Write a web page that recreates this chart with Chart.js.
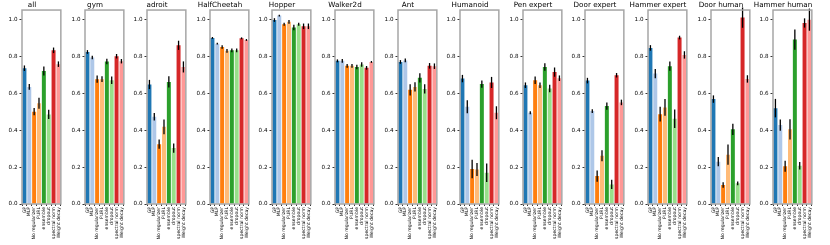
<!DOCTYPE html>
<html>
<head>
<meta charset="utf-8">
<script src="https://cdn.jsdelivr.net/npm/chart.js@4/dist/chart.umd.min.js"></script>
<style>
  body { margin: 0; background: #fff; }
  #wrap { position: relative; width: 830px; height: 245px; overflow: hidden; }
  #wrap canvas { position: absolute; top: 0; }
</style>
</head>
<body>
<div id="wrap"></div>
<script>
// dados
const methods = ['GP', 'MLP', 'No regularizer', 'PURL', 'ensemble', 'dropout', 'spectral norm', 'Weight decay'];
const panelNames = ['all', 'gym', 'adroit', 'HalfCheetah', 'Hopper', 'Walker2d', 'Ant', 'Humanoid',
                    'Pen expert', 'Door expert', 'Hammer expert', 'Door human', 'Hammer human'];
const yTicks = [0, 0.2, 0.4, 0.6, 0.8, 1.0];

const means = [
  [0.735, 0.634, 0.500, 0.545, 0.720, 0.485, 0.832, 0.757], // all
  [0.823, 0.793, 0.676, 0.676, 0.771, 0.670, 0.800, 0.773], // gym
  [0.647, 0.472, 0.324, 0.418, 0.661, 0.303, 0.859, 0.742], // adroit
  [0.899, 0.868, 0.850, 0.829, 0.832, 0.832, 0.897, 0.888], // HalfCheetah
  [0.996, 1.020, 0.973, 0.986, 0.955, 0.973, 0.962, 0.962], // Hopper
  [0.775, 0.775, 0.748, 0.748, 0.742, 0.755, 0.737, 0.769], // Walker2d
  [0.769, 0.777, 0.618, 0.634, 0.683, 0.623, 0.748, 0.746], // Ant
  [0.679, 0.526, 0.189, 0.187, 0.649, 0.169, 0.658, 0.494], // Humanoid
  [0.643, 0.494, 0.670, 0.643, 0.742, 0.625, 0.714, 0.681], // Pen expert
  [0.668, 0.503, 0.151, 0.261, 0.530, 0.106, 0.697, 0.550], // Door expert
  [0.845, 0.706, 0.486, 0.523, 0.746, 0.461, 0.901, 0.807], // Hammer expert
  [0.568, 0.229, 0.103, 0.267, 0.404, 0.112, 1.009, 0.677], // Door human
  [0.519, 0.427, 0.204, 0.404, 0.890, 0.207, 0.980, 0.998]  // Hammer human
];
const errors = [
  [0.015, 0.015, 0.020, 0.030, 0.025, 0.025, 0.015, 0.015],
  [0.010, 0.010, 0.020, 0.015, 0.015, 0.020, 0.012, 0.012],
  [0.025, 0.020, 0.025, 0.040, 0.030, 0.025, 0.025, 0.030],
  [0.005, 0.005, 0.010, 0.010, 0.010, 0.010, 0.005, 0.005],
  [0.010, 0.005, 0.008, 0.010, 0.015, 0.008, 0.015, 0.015],
  [0.008, 0.010, 0.010, 0.010, 0.012, 0.012, 0.010, 0.005],
  [0.010, 0.010, 0.030, 0.025, 0.025, 0.025, 0.015, 0.015],
  [0.020, 0.035, 0.050, 0.035, 0.020, 0.050, 0.030, 0.035],
  [0.015, 0.008, 0.020, 0.015, 0.020, 0.020, 0.025, 0.015],
  [0.015, 0.010, 0.030, 0.030, 0.020, 0.025, 0.012, 0.015],
  [0.015, 0.025, 0.040, 0.045, 0.025, 0.050, 0.010, 0.020],
  [0.020, 0.025, 0.015, 0.055, 0.030, 0.010, 0.055, 0.020],
  [0.050, 0.030, 0.030, 0.055, 0.055, 0.020, 0.025, 0.060]
];

const barColors = ['#1f77b4', '#aec7e8', '#ff7f0e', '#ffbb78', '#2ca02c', '#98df8a', '#d62728', '#ff9896'];
const font = 'DejaVu Sans';

// barras de erro + moldura cinza
const errorBars = {
  id: 'errorBars',
  afterDatasetsDraw(chart) {
    const ctx = chart.ctx;
    const y = chart.scales.y;
    const errs = chart.options.plugins.errorBars.errs;
    const vals = chart.data.datasets[0].data;
    ctx.save();
    ctx.strokeStyle = '#000';
    ctx.lineWidth = 1.3;
    chart.getDatasetMeta(0).data.forEach((bar, i) => {
      ctx.beginPath();
      ctx.moveTo(bar.x, y.getPixelForValue(vals[i] - errs[i]));
      ctx.lineTo(bar.x, y.getPixelForValue(vals[i] + errs[i]));
      ctx.stroke();
    });
    ctx.restore();
  },
  afterDraw(chart) {
    const a = chart.chartArea;
    const ctx = chart.ctx;
    ctx.save();
    ctx.strokeStyle = '#a6a6a6';
    ctx.lineWidth = 1.5;
    ctx.strokeRect(a.left, a.top, a.right - a.left, a.bottom - a.top);
    ctx.restore();
  }
};

const wrap = document.getElementById('wrap');
const axisW = 22;
const plotW = 42;
const pitch = 62.6;

panelNames.forEach((name, p) => {
  const cv = document.createElement('canvas');
  cv.width = axisW + plotW + 1;
  cv.height = 245;
  cv.style.left = (22 + p * pitch - axisW) + 'px';
  wrap.appendChild(cv);

  new Chart(cv.getContext('2d'), {
    type: 'bar',
    data: {
      labels: methods,
      datasets: [{
        data: means[p],
        backgroundColor: barColors,
        borderWidth: 0,
        barPercentage: 0.82,
        categoryPercentage: 1.0
      }]
    },
    options: {
      responsive: false,
      animation: false,
      layout: { padding: { top: 0, right: 1, left: 0, bottom: 0 } },
      scales: {
        x: {
          grid: { drawOnChartArea: false, tickLength: 2, color: '#000', tickWidth: 0.8 },
          border: { display: false },
          ticks: {
            autoSkip: false, minRotation: 90, maxRotation: 90, padding: 1,
            color: '#000', font: { family: font, size: 4.6 }
          },
          afterFit(s) { s.height = 41; }
        },
        y: {
          min: 0, max: 1.05,
          grid: { drawOnChartArea: false, tickLength: 2.5, color: '#000', tickWidth: 0.8 },
          border: { display: false },
          ticks: {
            padding: 2, color: '#000', font: { family: font, size: 5.6 },
            callback: v => v.toFixed(1)
          },
          afterBuildTicks(s) { s.ticks = yTicks.map(v => ({ value: v })); },
          afterFit(s) { s.width = axisW; }
        }
      },
      plugins: {
        legend: { display: false },
        tooltip: { enabled: false },
        title: {
          display: true, text: name, color: '#000',
          font: { family: font, size: 7.2, weight: 'normal' },
          padding: { top: 1, bottom: 0.4 }
        },
        errorBars: { errs: errors[p] }
      }
    },
    plugins: [errorBars]
  });
});
</script>
</body>
</html>
